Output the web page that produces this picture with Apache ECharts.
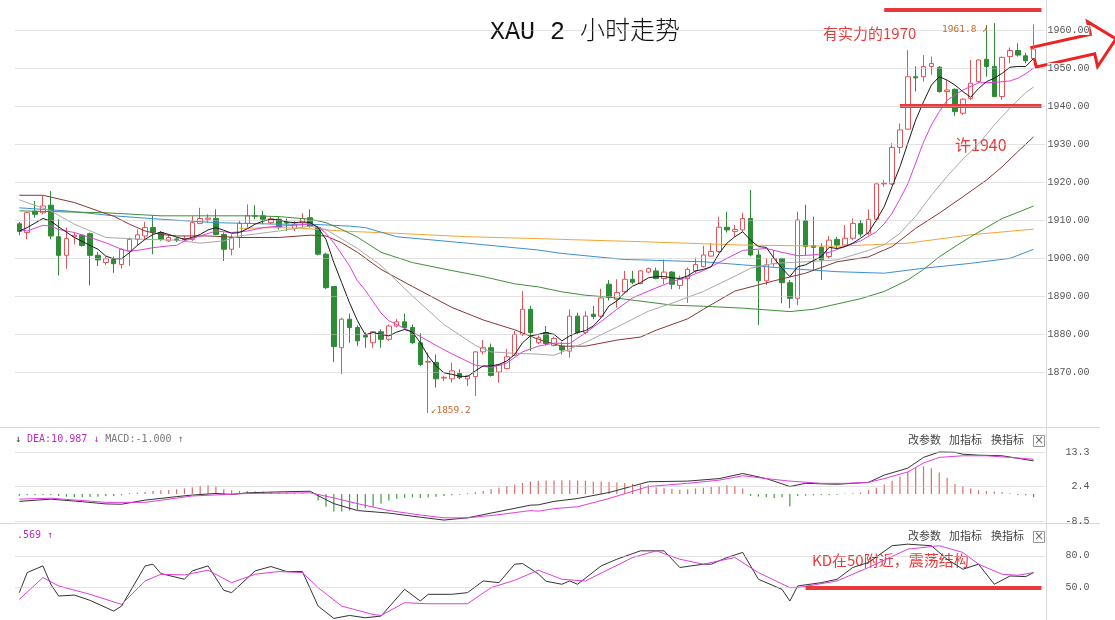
<!DOCTYPE html>
<html><head><meta charset="utf-8">
<script src="https://cdn.jsdelivr.net/npm/echarts@6/dist/echarts.min.js"></script>
<style>html,body{margin:0;padding:0;background:#fff}#c{width:1115px;height:620px}</style>
</head><body><div id="c"></div>
<script>
// ---------- DATA ----------
const categories = Array.from({length:131}, (_, i) => String(i + 1));

const open = [1909,1906.7,1912.3,1911.9,1913.9,1905.6,1900.7,1905.6,1906,1906.4,
1900.7,1898.8,1899.6,1898.3,1901.8,1904.9,1905.8,1908,1906.7,1904.5,
1905,1904.9,1904.9,1909.1,1910.2,1910.4,1906.2,1902.3,1905.4,1909.1,
1911.1,1911.1,1909.3,1910.2,1909.3,1907.7,1909.3,1910.6,1908,1901,
1892.5,1876.4,1883.9,1881.7,1879.6,1877.7,1880.6,1878.6,1882.1,1883.2,
1881.7,1877.7,1872.6,1872.5,1868.4,1868.2,1869.6,1868.2,1868.8,1875.3,
1876.4,1870,1870.9,1874.4,1879.9,1886.5,1877.7,1880.4,1877,1876.8,
1875.5,1884.7,1880.4,1885.2,1884.7,1893.1,1889.1,1891.1,1894.4,1893.3,
1896.3,1896.6,1894.6,1896.3,1892.8,1894.6,1896.6,1897.7,1900.5,1901.7,
1908.1,1907,1907.4,1910.4,1900.8,1894,1898.5,1899.9,1893.5,1889.4,
1909.8,1903.2,1902.8,1900.4,1904.9,1903.4,1905.2,1909.1,1906.5,1910.2,
1919.5,1919.5,1929.1,1933.9,1947.7,1947.7,1950.4,1950.2,1943.8,1944.4,
1938.1,1942,1946.4,1952.3,1950.4,1942.5,1953,1954.6,1953.2,1952.5];

const close = [1907,1911.9,1911.5,1913.7,1905.8,1900.7,1905.1,1906,1903.3,1900.7,
1899.5,1899.8,1898.5,1902.3,1904.9,1906.1,1908,1906.8,1904.9,1905.4,
1904.7,1905.1,1909.3,1910.4,1910.5,1906.2,1902.3,1905.4,1909.1,1911.1,
1911,1910.2,1910.3,1908,1909.2,1908.9,1910.4,1908.4,1901,1892.2,
1876.7,1883.9,1881.7,1878.2,1879.2,1880.6,1878.6,1882.1,1883.2,1881.7,
1877.7,1872,1872.8,1868.2,1868.6,1870.3,1868.5,1869,1875.3,1876.4,
1869.1,1871.8,1874,1879.9,1886.5,1880.4,1879,1877.5,1878.8,1875.8,
1884.7,1880.4,1884.7,1884.6,1889.5,1889.6,1890.9,1894.4,1893.6,1896.6,
1897.2,1894.6,1896.3,1893.1,1894.4,1897,1898.3,1900.8,1901.7,1908.1,
1907.4,1907.5,1910.4,1900.8,1894,1898.2,1899.9,1893.5,1889.4,1910,
1903,1902.8,1899.5,1904.7,1903.4,1905.2,1909.1,1906.3,1910.2,1919.5,
1919.7,1929.1,1933.7,1947.7,1947.4,1950.4,1951.2,1943.8,1944.2,1938.5,
1941.8,1946,1952.1,1950.4,1942.5,1952.8,1954.6,1953.4,1951.9,1955];

const low = [1906,1904.9,1910.6,1911.5,1904.9,1895.4,1897.2,1903.6,1903,1892.8,
1897.9,1898.2,1896.1,1897.2,1897.9,1903.2,1904.9,1901,1904.5,1904.2,
1904.2,1904.2,1904.5,1908.9,1909.3,1906,1899.2,1900.7,1902.7,1908,
1910.2,1908.9,1908.9,1907.5,1907.1,1907.1,1908,1908,1900.7,1891.8,
1872.6,1869.4,1877.7,1876.8,1876.4,1876.4,1876.4,1878.2,1881.7,1881.2,
1877.3,1871.6,1859.2,1865.9,1867.6,1867.2,1868.1,1866.3,1863.7,1874.6,
1868.8,1867.2,1870.7,1874.2,1879.5,1875.5,1877.3,1877,1876.7,1874.6,
1873.8,1879.9,1879.9,1883.9,1884.3,1888.8,1886.9,1890.7,1893.1,1893.1,
1896,1894.4,1893.1,1891.8,1891.8,1888.2,1896.1,1897.5,1900.4,1901.4,
1906.7,1905.6,1906.9,1900.4,1882.4,1892.9,1897.7,1888.1,1886.8,1887.6,
1900.8,1896.8,1894.2,1899.9,1902.5,1903,1904.7,1905.6,1906,1909.6,
1918.8,1919.2,1927.5,1933.7,1943.8,1946.4,1948.2,1943.5,1939.8,1937.4,
1937.6,1941.6,1946.1,1947.7,1942.3,1941.6,1951.2,1953,1951.2,1952];

const high = [1909.5,1912.2,1915,1916.3,1917.6,1910.2,1908,1906.7,1906.2,1906.7,
1901.6,1900.4,1900.4,1902.5,1905.4,1907.5,1909.5,1911.2,1907.1,1906.2,
1905.4,1905.8,1911,1913.2,1911.5,1912.8,1906.7,1906.2,1909.7,1914.1,
1913.9,1912.4,1911,1911,1910.4,1909.7,1911.8,1912.8,1908.4,1901.4,
1892.6,1884.3,1885.4,1882.3,1880.4,1880.8,1881.2,1882.5,1884,1885.4,
1882.5,1880.2,1875.1,1874.6,1869,1872.5,1870.7,1869.1,1875.5,1878.4,
1877.5,1872,1876.1,1880.8,1891.3,1887.4,1879.6,1882.1,1879.3,1877.9,
1886.5,1885.6,1886,1887.4,1891.9,1894.2,1894.4,1896.6,1896.6,1896.8,
1897.5,1897.5,1899.6,1896.6,1895.4,1897.5,1900.1,1903.2,1903.9,1910.9,
1912.2,1908.7,1911.9,1917.9,1902.1,1899.9,1902.1,1899.9,1894.2,1912.2,
1914,1910.9,1903.9,1905.8,1905.6,1908.7,1910.4,1910,1912.8,1919.6,
1920.5,1930.2,1935.4,1954.7,1950.4,1953.4,1953,1950.5,1946.8,1944.6,
1942,1952.1,1952.3,1961.3,1961.8,1953,1955.4,1956.5,1954,1961.5];

// moving averages: [candle index, value]
const ma5 = [[0,1907.1],[1,1908],[3,1910.4],[4,1909.7],[5,1908.2],[7,1905.4],[9,1903.3],[10,1902.3],[11,1900.5],[12,1899.8],[13,1899.8],[14,1901.4],[15,1903.3],[16,1904.9],[17,1906.2],[18,1906.8],[19,1906.2],[20,1905.5],[21,1904.9],[22,1905.4],[23,1906.2],[24,1907.4],[25,1908],[26,1907.3],[27,1906.5],[28,1906.7],[29,1907.7],[30,1908.9],[31,1909.7],[32,1910.2],[33,1910],[34,1909.5],[35,1909.3],[36,1909.5],[37,1909.3],[38,1908],[39,1904.9],[40,1898.8],[41,1893.5],[42,1888.2],[43,1883.5],[44,1879.8],[45,1880.4],[46,1879.9],[47,1879.5],[48,1880.5],[49,1881.2],[50,1880.5],[51,1877.7],[52,1874.2],[53,1871.6],[54,1869.8],[55,1869.4],[56,1868.9],[57,1868.8],[58,1870.3],[59,1871.6],[60,1871.6],[61,1872],[62,1872.9],[63,1874.6],[64,1877.7],[65,1879.5],[66,1879.9],[67,1880.4],[68,1879.9],[69,1878.2],[70,1879.5],[71,1880.4],[72,1880.9],[73,1882.1],[74,1884.3],[75,1887.4],[76,1888.7],[77,1890.9],[78,1892.6],[79,1893.5],[80,1894.8],[81,1895.1],[82,1895.1],[83,1894.8],[84,1894.6],[85,1895.3],[86,1896.6],[87,1897],[88,1897.7],[89,1901.2],[90,1903.9],[91,1905.6],[92,1906.9],[93,1904.7],[94,1903],[95,1902.8],[96,1899.9],[97,1897.3],[98,1895.1],[99,1897.7],[100,1898.2],[101,1899.3],[102,1900.4],[103,1902.8],[104,1902.5],[105,1903],[106,1903.9],[107,1905.2],[108,1906.7],[109,1910],[110,1913.5],[111,1918.8],[112,1924],[113,1930.2],[114,1936.3],[115,1941.1],[116,1945.5],[117,1947.7],[118,1946.8],[119,1945.5],[120,1943.8],[121,1942.3],[122,1944.6],[123,1946.4],[124,1947.3],[125,1948.6],[126,1950.2],[127,1950.4],[128,1950.4],[129,1952.5]];
const ma10 = [[0,1907.5],[1,1907.1],[3,1908.6],[4,1908.4],[5,1907.5],[7,1906.7],[9,1905.4],[11,1904],[13,1902.3],[14,1901.8],[15,1902],[17,1902.7],[19,1903.2],[20,1903.3],[21,1904.5],[23,1905.8],[25,1907.1],[27,1906.7],[29,1907.1],[31,1908],[33,1908.4],[35,1908.6],[37,1909],[38,1908.2],[39,1906.5],[40,1904],[41,1901],[42,1897.9],[43,1894],[44,1891.5],[45,1888.5],[46,1885.5],[47,1883.5],[50,1880.5],[53,1877],[55,1874.8],[58,1871.8],[60,1871.2],[62,1872.4],[64,1875.3],[66,1876.8],[68,1877.6],[70,1877.5],[72,1880.3],[74,1883.3],[76,1886.5],[78,1889.5],[80,1891.3],[83,1893.8],[85,1895],[87,1896.7],[90,1899.9],[92,1902],[95,1902.5],[97,1901.5],[99,1900.6],[101,1900.8],[103,1901.5],[105,1903],[107,1904.5],[109,1906.9],[110,1909],[111,1911.8],[112,1915.5],[113,1919.5],[114,1925],[115,1930.5],[116,1935],[117,1938.5],[118,1941.5],[120,1944.2],[122,1946.1],[124,1946.2],[126,1946.6],[127,1947.3],[128,1948.5],[129,1950]];
const ma20 = [[0,1915.3],[4,1912.4],[7,1908.9],[11,1905.4],[16,1904.9],[20,1904.7],[23,1903.9],[26,1904.5],[28,1905.8],[33,1907.1],[37,1908.4],[39,1907.5],[41,1905],[43,1902.5],[46,1898],[50,1890],[54,1882.5],[58,1877],[60,1875.3],[63,1874.9],[66,1874.7],[68,1874.4],[72,1877.8],[76,1881.8],[80,1886],[83,1888.1],[87,1891.2],[91,1895.2],[93,1897.3],[96,1898.6],[100,1899],[104,1899.5],[108,1902],[110,1903.5],[112,1906.5],[114,1911],[116,1916.5],[118,1921.5],[120,1926],[122,1930],[124,1935],[126,1939.5],[128,1943.5],[129,1945]];
const ma30 = [[0,1916.5],[3,1916.5],[7,1914.6],[10,1912.4],[12,1911],[14,1908.9],[16,1907.1],[18,1906.2],[20,1905.8],[24,1905.8],[28,1905.4],[33,1905.4],[37,1906],[39,1905.8],[41,1904],[43,1901.5],[46,1897],[50,1892.5],[55,1887],[59,1883.7],[63,1881.1],[66,1878.6],[69,1876.8],[72,1876.8],[76,1878.4],[79,1879.2],[81,1881],[85,1884],[87,1886.5],[91,1891.3],[96,1894],[100,1896],[104,1899],[108,1900.3],[111,1903],[114,1907.8],[117,1911.8],[120,1916.1],[123,1920.5],[125,1924],[127,1928],[129,1931.9]];
const ma60 = [[0,1912.4],[11,1911.9],[18,1911.1],[25,1911.1],[30,1911.1],[33,1910.9],[37,1910.2],[39,1909.3],[41,1907.5],[43,1905.5],[46,1901.5],[50,1898.8],[55,1896.7],[59,1895.1],[63,1893.2],[66,1892.4],[69,1891.1],[72,1890.2],[75,1889.7],[80,1888.4],[83,1887.6],[87,1887.3],[92,1886.8],[98,1885.9],[101,1886.5],[104,1887.9],[107,1889.3],[110,1891.2],[113,1894.2],[115,1897],[117,1900.3],[119,1903],[121,1905.6],[123,1908],[125,1910.4],[127,1912],[129,1913.7]];
const ma120 = [[0,1913.2],[6,1912.4],[12,1911.1],[18,1910.2],[25,1909.3],[33,1908.9],[37,1908.9],[42,1908.4],[44,1908],[48,1905.6],[57,1903.9],[66,1902.1],[69,1901.2],[77,1899.6],[79,1899.5],[87,1899],[92,1898.2],[98,1897.2],[104,1896.4],[110,1896],[115,1897.3],[121,1898.6],[126,1899.9],[129,1902.3]];
const ma250 = [[28,1907.8],[33,1908],[36,1907.8],[42,1907],[48,1906.5],[57,1905.6],[66,1905.1],[69,1904.9],[79,1904.3],[92,1903.4],[104,1903.1],[113,1903.9],[121,1906.1],[129,1907.6]];

// MACD panel
const dif = [[0,-2.3],[4,-1.6],[8,-2.4],[11,-3.1],[13,-3.2],[16,-1.9],[20,-0.8],[22,-0.3],[25,0.2],[27,-0.1],[29,0.4],[33,0.7],[37,0.9],[38,-0.5],[40,-3],[43,-5.2],[47,-6],[51,-7.3],[54,-8.2],[57,-7.5],[61,-5.5],[65,-3.5],[66,-3.4],[68,-2.3],[71,-1.4],[75,0.5],[80,3.9],[85,4.1],[89,4.9],[92,6.5],[95,4.9],[98,2.4],[100,3.4],[104,3.1],[108,3.7],[110,6],[113,8.2],[115,11.6],[117,13.3],[119,13.2],[120,12.6],[122,12.3],[125,12.1],[127,11.3],[129,10.5]];
const dea = [[0,-1.6],[4,-1.3],[11,-2.6],[16,-2.6],[22,-0.6],[29,0.2],[37,0.4],[40,-1.2],[43,-3],[47,-5.2],[51,-6.6],[54,-7.5],[57,-7.5],[61,-6.5],[65,-5.2],[66,-5.4],[68,-4.6],[71,-4],[75,-1.4],[80,2.4],[85,3.4],[89,4.4],[92,5.8],[95,4.9],[98,4.1],[102,3.4],[105,3.4],[108,3.7],[110,4.9],[113,7],[115,9.8],[117,11.6],[120,12.1],[123,12.1],[127,11.4],[129,11]];
const macdHist = [-0.5,-0.4,-0.4,-0.3,-0.3,-0.6,-0.8,-0.9,-1,-0.9,
-0.8,-0.7,-0.6,-0.4,0.3,0.5,0.7,1,1.2,1.3,
1.5,1.8,2.2,2.6,2.8,2.4,1.5,1.2,1,1,
0.9,0.8,0.7,0.6,0.5,0.4,0.3,0.1,-2,-4,
-5.5,-5.5,-5.2,-5,-4.5,-4,-3,-2,-1.5,-1.2,
-1,-1.2,-1,-0.8,-0.6,-0.4,-0.2,0.3,0.6,1,
1.5,2,2.5,3,3.5,4,4.2,4.3,4.3,4.4,
4.4,4.3,4.2,4,4,3.8,3.7,3.5,3.3,3,
2.8,2.2,2,1.6,1.4,1.5,1.8,2,2.3,2.5,
2.8,2.5,1.8,-0.6,-0.8,-1,-1.2,-1,-3.8,-0.6,
-0.5,-0.4,-0.3,-0.3,-0.2,0.2,0.3,0.5,1.2,2,
3,4.2,5.5,7,8.3,8.8,8.2,6.8,5.2,3.2,
2.4,1.8,1.2,1,0.8,0.6,0.3,-0.3,-0.4,-1];

// KD panel
const kLine = [[0,45.3],[1,64.2],[3,70.5],[4,53.2],[5,42.1],[7,43],[9,38],[12,27.9],[13,32.6],[16,70.5],[17,72.1],[18,63.3],[21,57.9],[22,65.8],[24,70.5],[26,47.5],[27,45.3],[30,65.8],[32,69.9],[34,65.2],[36,65.2],[38,32.6],[40,21],[42,23.8],[44,21.6],[46,23.2],[49,48.4],[51,37.4],[52,43.7],[55,43.7],[57,45.3],[59,56.3],[61,54.7],[63,72.1],[64,72.7],[66,63],[67,56],[69,53.2],[70,56.3],[71,53.2],[74,70.5],[76,76.8],[79,84.7],[82,84.7],[84,69],[87,72.1],[88,72.1],[90,78.4],[92,83.2],[94,57.9],[97,48.4],[98,37.4],[99,51.6],[102,54.7],[104,57.9],[106,69],[108,73.7],[111,89.5],[113,91],[116,89.5],[118,76.8],[120,67.4],[122,72.1],[124,53.2],[126,61],[128,60.4],[129,64.2]];
const dLine = [[0,39],[3,59.5],[5,51.6],[9,43.7],[13,34.2],[16,56.3],[18,62.6],[21,62],[24,66.4],[27,54.7],[30,62.6],[33,65.2],[36,64.2],[38,50],[41,32.6],[45,24.7],[46,23.8],[49,35.8],[52,34.8],[57,34.8],[60,50],[63,56.9],[66,66.5],[69,57.9],[72,56.3],[75,67.4],[78,78.4],[81,84.7],[84,76.8],[87,72.1],[91,78.4],[94,64.2],[98,50],[99,50],[104,56.3],[108,69],[113,86.3],[117,89.5],[120,83.2],[122,72.1],[125,62.6],[127,61.7],[129,64.2]];

const priceTicks = [1870,1880,1890,1900,1910,1920,1930,1940,1950,1960];
const macdTicks = [13.3, 2.4, -8.5];
const kdTicks = [80, 50];

// ---------- CHART ----------
const candles = open.map((o, i) => [o, close[i], low[i], high[i]]);
const chart = echarts.init(document.getElementById('c'), null, {renderer:'canvas'});
const GL = 15.4, GR = 69.6;
const RED = '#e8393a';
const dotted = {color:'#c6c6c6', type:'dotted', width:1};
const gridLines = vals => ({silent:true, symbol:['none','none'], label:{show:false}, lineStyle:dotted,
  emphasis:{disabled:true}, data: vals.map(v => ({yAxis: v}))});
const maLine = (name, data, color) => ({
  name, type:'line', data, xAxisIndex:0, yAxisIndex:0, symbol:'none', smooth:false,
  lineStyle:{color, width:1}, z:3, silent:true});
const cjk = '"Noto Sans CJK SC","Noto Sans",sans-serif';
const mono = '"DejaVu Sans Mono",monospace';

const toolsText = (top) => [
  {type:'text', left:908, top, style:{text:'改参数', font:'11px ' + cjk, fill:'#444'}},
  {type:'text', left:949, top, style:{text:'加指标', font:'11px ' + cjk, fill:'#444'}},
  {type:'text', left:991, top, style:{text:'换指标', font:'11px ' + cjk, fill:'#444'}},
  {type:'rect', shape:{x:1033.5, y:top + 1.5, width:11, height:11}, style:{fill:'#fff', stroke:'#999', lineWidth:1}},
  {type:'text', x:1039, y:top + 7, style:{text:'×', font:'12px "DejaVu Sans",sans-serif', fill:'#666', align:'center', verticalAlign:'middle'}}
];

const option = {
  animation:false,
  backgroundColor:'#fff',
  grid:[
    {left:GL, right:GR, top:0, height:427},
    {left:GL, right:GR, top:428, height:95},
    {left:GL, right:GR, top:524, height:96}
  ],
  xAxis:[0,1,2].map(g => ({type:'category', gridIndex:g, data:categories, boundaryGap:true,
    axisLine:{show:false}, axisTick:{show:false}, axisLabel:{show:false}, splitLine:{show:false}})),
  yAxis:[
    {type:'value', gridIndex:0, position:'right', min:1855.53, max:1967.89, z:10,
      axisLine:{show:false}, axisTick:{show:false, customValues:priceTicks}, splitLine:{show:false},
      axisLabel:{customValues:priceTicks, formatter:v => v.toFixed(2), align:'right', margin:44,
        color:'#555', fontFamily:'Liberation Mono', fontSize:10, backgroundColor:'#fff'}},
    {type:'value', gridIndex:1, position:'right', min:-9.13, max:20.88,
      axisLine:{show:false}, axisTick:{show:false, customValues:macdTicks}, splitLine:{show:false},
      axisLabel:{customValues:macdTicks, formatter:v => v.toFixed(1), align:'right', margin:44,
        color:'#555', fontFamily:'Liberation Mono', fontSize:10}},
    {type:'value', gridIndex:2, position:'right', min:19.5, max:110,
      axisLine:{show:false}, axisTick:{show:false, customValues:kdTicks}, splitLine:{show:false},
      axisLabel:{customValues:kdTicks, formatter:v => v.toFixed(1), align:'right', margin:44,
        color:'#555', fontFamily:'Liberation Mono', fontSize:10}}
  ],
  series:[
    {name:'K', type:'candlestick', xAxisIndex:0, yAxisIndex:0, data:candles, barWidth:5, z:2, silent:true,
      itemStyle:{color:'#ffffff', color0:'#2e8b36', borderColor:'#e0555a', borderColor0:'#2e8b36', borderWidth:1},
      markLine:{silent:true, symbol:['none','none'], label:{show:false}, emphasis:{disabled:true},
        lineStyle:{color:RED, width:4, type:'solid'},
        data:[
          [{coord:[110, 1965.26]}, {coord:[130, 1965.26]}],
          [{coord:[112, 1940]}, {coord:[130, 1940]}]
        ]},
      markPoint:{silent:true, symbol:'circle', symbolSize:1, itemStyle:{color:'rgba(0,0,0,0)'},
        label:{show:true, color:'#c8692c', fontFamily:mono, fontSize:9.5},
        data:[
          {coord:[124, 1961.8], label:{formatter:'1961.8 ↗', position:'left', distance:4, offset:[-2,6]}},
          {coord:[52, 1859.2], label:{formatter:'↙1859.2', position:'right', distance:2, offset:[0,-3]}}
        ]}
    },
    {type:'line', xAxisIndex:0, yAxisIndex:0, data:[], markLine:gridLines(priceTicks), silent:true},
    maLine('MA250', ma250, '#f2a630'),
    maLine('MA120', ma120, '#3c8fd2'),
    maLine('MA60', ma60, '#3f8f3a'),
    maLine('MA30', ma30, '#8a3535'),
    maLine('MA20', ma20, '#a9a9a9'),
    maLine('MA10', ma10, '#e03ee0'),
    maLine('MA5', ma5, '#1a1a1a'),
    // MACD
    {name:'MACD', type:'bar', xAxisIndex:1, yAxisIndex:1, data:macdHist, barWidth:1.2, silent:true,
      itemStyle:{color:p => p.value >= 0 ? '#de6b6b' : '#3f9a45'},
      markLine:gridLines(macdTicks)},
    {name:'DIF', type:'line', xAxisIndex:1, yAxisIndex:1, data:dif, symbol:'none', lineStyle:{color:'#333', width:1}, silent:true, z:3},
    {name:'DEA', type:'line', xAxisIndex:1, yAxisIndex:1, data:dea, symbol:'none', lineStyle:{color:'#e03ee0', width:1}, silent:true, z:3},
    // KD
    {name:'Kline', type:'line', xAxisIndex:2, yAxisIndex:2, data:kLine, symbol:'none', lineStyle:{color:'#333', width:1}, silent:true, z:3,
      markLine:gridLines(kdTicks)},
    {name:'Dline', type:'line', xAxisIndex:2, yAxisIndex:2, data:dLine, symbol:'none', lineStyle:{color:'#e03ee0', width:1}, silent:true, z:3,
      markLine:{silent:true, symbol:['none','none'], label:{show:false}, emphasis:{disabled:true},
        lineStyle:{color:RED, width:4, type:'solid'},
        data:[[{coord:[99.5, 50]}, {coord:[130, 50]}]]}}
  ],
  graphic:[
    {type:'line', shape:{x1:0, y1:427.5, x2:1100, y2:427.5}, style:{stroke:'#d9d9d9', lineWidth:1}, silent:true},
    {type:'line', shape:{x1:0, y1:523.5, x2:1100, y2:523.5}, style:{stroke:'#d9d9d9', lineWidth:1}, silent:true},
    {type:'line', shape:{x1:1046.5, y1:0, x2:1046.5, y2:620}, style:{stroke:'#d9d9d9', lineWidth:1}, silent:true},
    {type:'text', left:490, top:20, style:{text:'XAU 2 小时走势', font:'300 25px "Liberation Mono",' + cjk, fill:'#111'}},
    {type:'text', left:823, top:26, style:{text:'有实力的1970', font:'15px ' + cjk, fill:RED}},
    {type:'text', left:955, top:137, style:{text:'许1940', font:'16px ' + cjk, fill:RED}},
    {type:'text', left:812, top:553, style:{text:'KD在50附近，震荡结构', font:'15px ' + cjk, fill:RED}},
    {type:'polygon', x:1075, y:48, rotation:0.22, z:1,
      shape:{points:[[-42,-10],[18,-10],[18,-23],[42,0],[18,23],[18,10],[-42,10]]},
      style:{fill:'rgba(255,255,255,0)', stroke:'#ee2222', lineWidth:3}},
    {type:'text', left:15, top:434, style:{
      text:'{a|↓ }{b|DEA:10.987 ↓ }{c|MACD:-1.000 ↑}',
      font:'10px ' + mono,
      rich:{a:{fill:'#222', font:'10px ' + mono},
            b:{fill:'#c02cc0', font:'10px ' + mono},
            c:{fill:'#777', font:'10px ' + mono}}}},
    {type:'text', left:17, top:530, style:{text:'.569 ↑', font:'10px ' + mono, fill:'#c02cc0'}},
    ...toolsText(434),
    ...toolsText(530)
  ]
};
chart.setOption(option);
</script>
</body></html>
